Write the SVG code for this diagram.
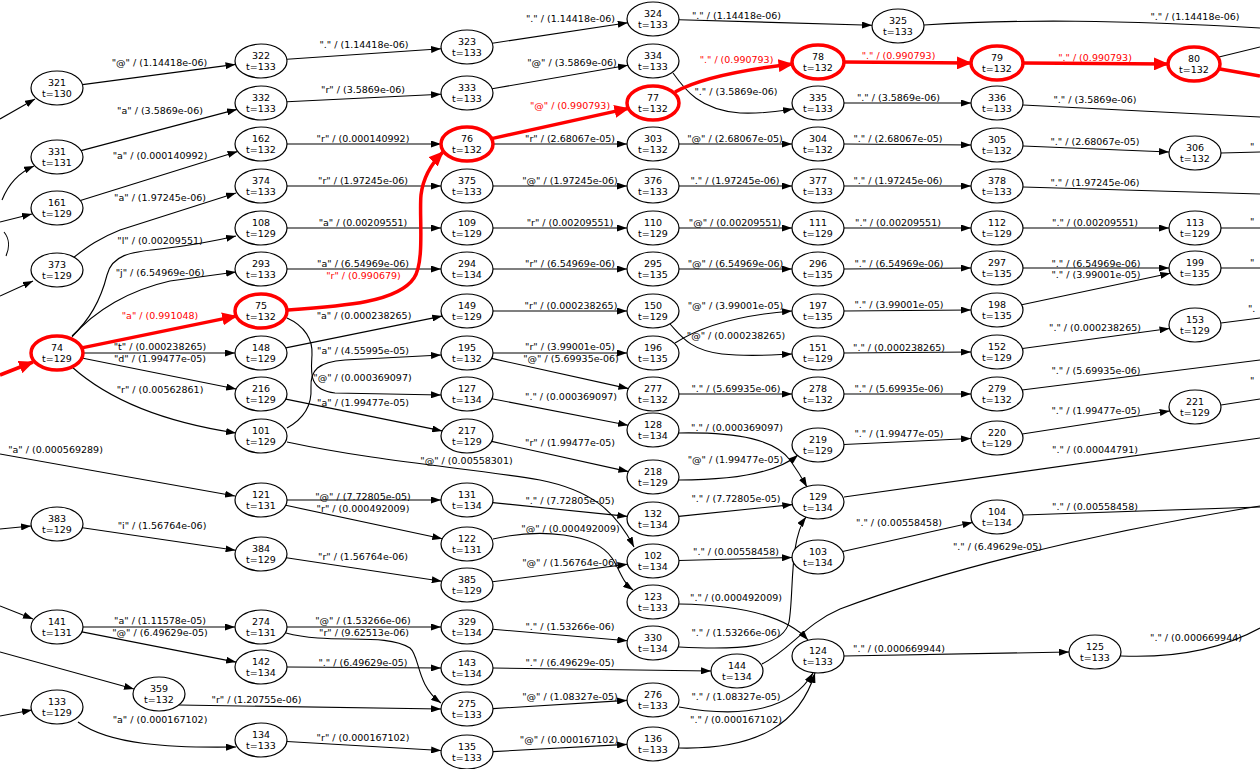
<svg xmlns="http://www.w3.org/2000/svg" width="1260" height="769" viewBox="0 0 1260 769">
<style>
  .e{fill:none;stroke:#000;stroke-width:1.1;marker-end:url(#ah)}
  .o{fill:none;stroke:#000;stroke-width:1.1}
  .r{fill:none;stroke:#f00;stroke-width:3.5;marker-end:url(#ahr)}
  .ro{fill:none;stroke:#f00;stroke-width:3.5}
  .lb{font-family:"DejaVu Sans","Liberation Sans",sans-serif;font-size:9.5px;text-anchor:middle;fill:#000}
  .lr{fill:#f00}
  .pl{font-family:"DejaVu Sans","Liberation Sans",sans-serif;font-size:9.5px;fill:#000}
  .node ellipse{fill:#fff;stroke:#000;stroke-width:1.2}
  .node.hot ellipse{stroke:#f00;stroke-width:3.5}
  .node text{font-family:"DejaVu Sans","Liberation Sans",sans-serif;font-size:9.5px;text-anchor:middle;fill:#000}
</style>
<defs>
  <marker id="ah" markerUnits="userSpaceOnUse" markerWidth="10" markerHeight="7" refX="10" refY="3.5" orient="auto">
    <path d="M0,0 L10,3.5 L0,7 Z" fill="#000"/>
  </marker>
  <marker id="ahr" markerUnits="userSpaceOnUse" markerWidth="15" markerHeight="13" refX="14" refY="6.5" orient="auto">
    <path d="M0,0 L15,6.5 L0,13 Z" fill="#f00"/>
  </marker>
</defs>
<rect width="1260" height="769" fill="#fff"/>

<g id="edges">
  <!-- entering from the left margin -->
  <path class="e" d="M0,119 L35,99"/>
  <path class="e" d="M2,200 C8,185 18,173 34,166"/>
  <path class="e" d="M0,222 L32,214"/>
  <path class="o" d="M4,232 C9,238 10,247 6,256"/>
  <path class="e" d="M0,296 L33,281"/>
  <path class="r" d="M0,375 L33,362"/>
  <path class="e" d="M0,454 L235,496"/>
  <path class="e" d="M0,529 L31,526"/>
  <path class="e" d="M0,606 L33,619"/>
  <path class="e" d="M0,652 L134,689"/>
  <path class="e" d="M0,716 L32,710"/>

  <!-- first column out -->
  <path class="e" d="M82.5,84.6 L235.5,64.4"/>
  <path class="e" d="M81.1,150.6 L236.9,109.4"/>
  <path class="e" d="M80.4,200.6 L237.6,151.4"/>
  <path class="e" d="M73,258 C88,246 100,238 120,230 L236,193"/>
  <path class="e" d="M72,336 C92,318 102,295 107,275 C112,255 130,252 160,249 C195,245 215,241 236,236"/>
  <path class="e" d="M72,337 C95,310 130,290 170,281 L236,272"/>
  <path class="r" d="M81.8,347.9 L236.2,316.1"/>
  <path class="e" d="M83,353 L235,353"/>
  <path class="e" d="M81.8,358 L236.2,389"/>
  <path class="e" d="M72,367 C100,392 150,420 236,433"/>
  <path class="e" d="M82.4,527.7 L235.6,550.3"/>
  <path class="e" d="M83,627 L235,627"/>
  <path class="e" d="M81.9,631.9 L236.1,662.1"/>
  <path class="e" d="M78,722 C110,745 170,748 236,747"/>
  <path class="e" d="M179,705 L441,709"/>

  <!-- second column out -->
  <path class="e" d="M286.9,59.2 L441.1,48.8"/>
  <path class="e" d="M287,101.7 L441,94.3"/>
  <path class="e" d="M287,144 L441,144"/>
  <path class="e" d="M287,186 L441,186"/>
  <path class="e" d="M287,228 L441,228"/>
  <path class="e" d="M287,269 L441,269"/>
  <path class="r" d="M288,310 C345,306 398,302 414,278 C425,262 419,215 421,195 C423,178 432,163 443,152"/>
  <path class="e" d="M285.8,347.9 L442.2,316.1"/>
  <path class="e" d="M287,318 C305,326 313,340 312,355 C311,372 308,390 335,393 L441,395"/>
  <path class="e" d="M287,428 C305,418 312,405 311,388 C310,370 318,362 345,360 L441,355"/>
  <path class="e" d="M285.8,399.1 L442.2,430.9"/>
  <path class="e" d="M287,442 C380,462 470,468 540,480 C590,490 615,510 634,547"/>
  <path class="e" d="M287,500 L441,500"/>
  <path class="e" d="M285.7,505.3 L442.3,538.7"/>
  <path class="e" d="M286.3,557.8 L441.7,581.2"/>
  <path class="e" d="M287,627 L441,627"/>
  <path class="e" d="M286,633 C330,645 385,632 410,648 C420,656 416,685 441,703"/>
  <path class="e" d="M287,667 L441,668"/>
  <path class="e" d="M286.9,741.5 L441.1,750.5"/>

  <!-- third column out -->
  <path class="e" d="M492.3,43.2 L627.7,22.8"/>
  <path class="e" d="M492.1,88.7 L627.9,65.3"/>
  <path class="r" d="M491.6,138.6 L628.4,108.4"/>
  <path class="e" d="M493,144 L627,144"/>
  <path class="e" d="M493,186 L627,186"/>
  <path class="e" d="M493,228 L627,228"/>
  <path class="e" d="M493,269 L627,269"/>
  <path class="e" d="M493,311 L627,311"/>
  <path class="e" d="M493,353 L627,353"/>
  <path class="e" d="M491.6,358.4 L628.4,388.6"/>
  <path class="e" d="M491.9,398.8 L628.1,425.2"/>
  <path class="e" d="M491.6,441.4 L628.4,471.6"/>
  <path class="e" d="M492.7,502.6 L627.3,516.4"/>
  <path class="e" d="M493,539 C540,528 595,533 612,558 C620,570 622,582 633,590"/>
  <path class="e" d="M492.5,581.7 L627.5,564.3"/>
  <path class="e" d="M492.7,629.2 L627.3,640.8"/>
  <path class="e" d="M493,668 L711,671"/>
  <path class="e" d="M493,708.6 L627,700.4"/>
  <path class="e" d="M493,751.6 L627,744.4"/>

  <!-- fourth column out -->
  <path class="e" d="M679,19.7 L872,25.3"/>
  <path class="e" d="M673,73 C685,90 700,110 740,113 C765,114 780,111 793,109"/>
  <path class="r" d="M675,92 C700,78 740,70 792.5,64"/>
  <path class="e" d="M679,144 L792,144"/>
  <path class="e" d="M679,186 L792,186"/>
  <path class="e" d="M679,228 L792,228"/>
  <path class="e" d="M679,269 L792,269"/>
  <path class="e" d="M675,343 C700,327 740,315 792,311"/>
  <path class="e" d="M670,324 C682,337 690,350 722,354 C750,357 770,355 792,354"/>
  <path class="e" d="M679,394 L792,394"/>
  <path class="e" d="M679,433 C740,432 775,440 790,460 C797,470 802,478 807,487"/>
  <path class="e" d="M679,480 C745,480 780,470 798,455"/>
  <path class="e" d="M678.7,516.4 L792.3,504.6"/>
  <path class="e" d="M679,560.5 L792,557.5"/>
  <path class="e" d="M679,604 C740,605 785,615 808,640"/>
  <path class="e" d="M679,647 C740,650 783,648 789,622 C794,595 789,540 806,517"/>
  <path class="o" d="M762,664 C790,650 805,624 840,609 C930,575 1080,535 1260,506"/>
  <path class="e" d="M679,707 C740,718 790,712 813,673"/>
  <path class="e" d="M679,748 C760,750 800,722 815,673"/>

  <!-- fifth column out -->
  <path class="r" d="M844,62 L971,63"/>
  <path class="e" d="M844,103 L971,103"/>
  <path class="e" d="M844,144 L971,145"/>
  <path class="e" d="M844,186 L971,186"/>
  <path class="e" d="M844,228 L971,228"/>
  <path class="e" d="M844,269 L971,268"/>
  <path class="e" d="M844,311 L971,310"/>
  <path class="e" d="M844,353 L971,352"/>
  <path class="e" d="M844,394 L971,394"/>
  <path class="e" d="M844,444.5 L971,438.5"/>
  <path class="o" d="M844,497 L1260,438"/>
  <path class="e" d="M842.6,551.5 L972.4,522.5"/>
  <path class="e" d="M844,656 L1069,652"/>

  <!-- sixth column out -->
  <path class="o" d="M924,25 C1020,19 1120,20 1260,28"/>
  <path class="r" d="M1023,63 L1168,64"/>
  <path class="o" d="M1023,105 L1260,117"/>
  <path class="e" d="M1023,146 L1169,152"/>
  <path class="o" d="M1023,187 L1260,194"/>
  <path class="e" d="M1023,228 L1169,228"/>
  <path class="e" d="M1023,268 L1169,268"/>
  <path class="e" d="M1021.75,304.75 L1170.25,273.25"/>
  <path class="e" d="M1022.5,348.5 L1169.5,328.5"/>
  <path class="o" d="M1022,390 L1260,360"/>
  <path class="e" d="M1022.3,434 L1169.7,411"/>
  <path class="o" d="M1023,515 L1260,507"/>
  <path class="o" d="M1121,656 C1170,658 1220,650 1260,628"/>

  <!-- leaving at the right margin -->
  <path class="o" d="M1219,57 L1260,47"/>
  <path class="ro" d="M1220,69 L1260,76"/>
  <path class="o" d="M1221,153 L1260,152"/>
  <path class="o" d="M1221,228 L1260,228"/>
  <path class="o" d="M1221,268 L1260,268"/>
  <path class="o" d="M1221,323 L1260,318"/>
  <path class="o" d="M1221,405 L1260,399"/>

  <!-- edge labels -->
  <g class="lb">
    <text x="159.5" y="66">"@" / (1.14418e-06)</text>
    <text x="160" y="114">"a" / (3.5869e-06)</text>
    <text x="160" y="158.5">"a" / (0.000140992)</text>
    <text x="160" y="201">"a" / (1.97245e-06)</text>
    <text x="160" y="244">"l" / (0.00209551)</text>
    <text x="160" y="275.5">"j" / (6.54969e-06)</text>
    <text class="lr" x="160" y="319">"a" / (0.991048)</text>
    <text x="160" y="350">"t" / (0.000238265)</text>
    <text x="160" y="362">"d" / (1.99477e-05)</text>
    <text x="160" y="393">"r" / (0.00562861)</text>
    <text x="55.5" y="453">"a" / (0.000569289)</text>
    <text x="162" y="529">"i" / (1.56764e-06)</text>
    <text x="160" y="623.5">"a" / (1.11578e-05)</text>
    <text x="160" y="636">"@" / (6.49629e-05)</text>
    <text x="160" y="723">"a" / (0.000167102)</text>
    <text x="256.5" y="703">"r" / (1.20755e-06)</text>

    <text x="364" y="48">"." / (1.14418e-06)</text>
    <text x="363" y="93">"r" / (3.5869e-06)</text>
    <text x="363" y="142">"r" / (0.000140992)</text>
    <text x="363" y="184">"r" / (1.97245e-06)</text>
    <text x="363" y="225.5">"a" / (0.00209551)</text>
    <text x="363" y="267">"a" / (6.54969e-06)</text>
    <text class="lr" x="363.5" y="279">"r" / (0.990679)</text>
    <text x="364" y="319">"a" / (0.000238265)</text>
    <text x="363" y="354">"a" / (4.55995e-05)</text>
    <text x="362.5" y="380.5">"@" / (0.000369097)</text>
    <text x="363" y="405.5">"a" / (1.99477e-05)</text>
    <text x="466.5" y="464">"@" / (0.00558301)</text>
    <text x="363" y="500">"@" / (7.72805e-05)</text>
    <text x="363" y="512">"r" / (0.000492009)</text>
    <text x="363" y="559.5">"r" / (1.56764e-06)</text>
    <text x="363" y="623.5">"@" / (1.53266e-06)</text>
    <text x="364" y="636">"r" / (9.62513e-06)</text>
    <text x="363" y="665.5">"." / (6.49629e-05)</text>
    <text x="363" y="740.5">"r" / (0.000167102)</text>

    <text x="570.5" y="22">"." / (1.14418e-06)</text>
    <text x="572" y="65.5">"@" / (3.5869e-06)</text>
    <text class="lr" x="570" y="109">"@" / (0.990793)</text>
    <text x="570" y="142">"r" / (2.68067e-05)</text>
    <text x="570" y="184">"@" / (1.97245e-06)</text>
    <text x="570" y="225.5">"r" / (0.00209551)</text>
    <text x="570" y="267">"r" / (6.54969e-06)</text>
    <text x="571" y="308.5">"r" / (0.000238265)</text>
    <text x="570" y="350">"r" / (3.99001e-05)</text>
    <text x="571" y="362">"@" / (5.69935e-06)</text>
    <text x="571" y="400">"." / (0.000369097)</text>
    <text x="570" y="445.5">"r" / (1.99477e-05)</text>
    <text x="570" y="504">"." / (7.72805e-05)</text>
    <text x="570.5" y="531.5">"@" / (0.000492009)</text>
    <text x="570" y="565.5">"@" / (1.56764e-06)</text>
    <text x="570" y="629.5">"." / (1.53266e-06)</text>
    <text x="570" y="666">"." / (6.49629e-05)</text>
    <text x="570" y="699.5">"@" / (1.08327e-05)</text>
    <text x="569" y="743">"@" / (0.000167102)</text>

    <text x="736.5" y="19">"." / (1.14418e-06)</text>
    <text class="lr" x="736.5" y="62.5">"." / (0.990793)</text>
    <text x="736" y="94.5">"." / (3.5869e-06)</text>
    <text x="735" y="142">"@" / (2.68067e-05)</text>
    <text x="735" y="184">"." / (1.97245e-06)</text>
    <text x="735" y="225.5">"@" / (0.00209551)</text>
    <text x="735.5" y="267">"@" / (6.54969e-06)</text>
    <text x="735.5" y="309">"@" / (3.99001e-05)</text>
    <text x="736" y="339">"@" / (0.000238265)</text>
    <text x="736" y="391.5">"." / (5.69935e-06)</text>
    <text x="737" y="431">"." / (0.000369097)</text>
    <text x="735.5" y="463">"@" / (1.99477e-05)</text>
    <text x="736" y="502">"." / (7.72805e-05)</text>
    <text x="736" y="554.5">"." / (0.00558458)</text>
    <text x="736" y="600.5">"." / (0.000492009)</text>
    <text x="736" y="635.5">"." / (1.53266e-06)</text>
    <text x="736" y="699.5">"." / (1.08327e-05)</text>
    <text x="736" y="722.5">"." / (0.000167102)</text>

    <text class="lr" x="898.5" y="59">"." / (0.990793)</text>
    <text x="898.5" y="101">"." / (3.5869e-06)</text>
    <text x="898" y="142">"." / (2.68067e-05)</text>
    <text x="898" y="184">"." / (1.97245e-06)</text>
    <text x="898" y="225.5">"." / (0.00209551)</text>
    <text x="899" y="267">"." / (6.54969e-06)</text>
    <text x="899" y="308">"." / (3.99001e-05)</text>
    <text x="899" y="350.5">"." / (0.000238265)</text>
    <text x="899" y="392">"." / (5.69935e-06)</text>
    <text x="899" y="437">"." / (1.99477e-05)</text>
    <text x="899" y="526">"." / (0.00558458)</text>
    <text x="899" y="651.5">"." / (0.000669944)</text>

    <text x="1195" y="20">"." / (1.14418e-06)</text>
    <text class="lr" x="1095" y="60.5">"." / (0.990793)</text>
    <text x="1095" y="103">"." / (3.5869e-06)</text>
    <text x="1095" y="144.5">"." / (2.68067e-05)</text>
    <text x="1095" y="185.5">"." / (1.97245e-06)</text>
    <text x="1095" y="225.5">"." / (0.00209551)</text>
    <text x="1096" y="267">"." / (6.54969e-06)</text>
    <text x="1096" y="278">"." / (3.99001e-05)</text>
    <text x="1095" y="331">"." / (0.000238265)</text>
    <text x="1096" y="373.5">"." / (5.69935e-06)</text>
    <text x="1096" y="414">"." / (1.99477e-05)</text>
    <text x="1095" y="453">"." / (0.00044791)</text>
    <text x="1095" y="509.5">"." / (0.00558458)</text>
    <text x="997.5" y="549.5">"." / (6.49629e-05)</text>
    <text x="1196" y="640.5">"." / (0.000669944)</text>
  </g>
  <g class="pl">
    <text x="1250" y="150">"</text>
    <text x="1250" y="225">"</text>
    <text x="1250" y="266">"</text>
    <text x="1248" y="312">".</text>
    <text x="1250" y="384">"</text>
  </g>
</g>

<!-- nodes -->
<g id="n321" class="node"><ellipse cx="57" cy="88" rx="26" ry="17"/><text x="57" y="86">321</text><text x="57" y="96.5">t=130</text></g>
<g id="n331" class="node"><ellipse cx="57" cy="157" rx="26" ry="17"/><text x="57" y="155">331</text><text x="57" y="165.5">t=131</text></g>
<g id="n161" class="node"><ellipse cx="57" cy="208" rx="26" ry="17"/><text x="57" y="206">161</text><text x="57" y="216.5">t=129</text></g>
<g id="n373" class="node"><ellipse cx="57" cy="270" rx="26" ry="17"/><text x="57" y="268">373</text><text x="57" y="278.5">t=129</text></g>
<g id="n74" class="node hot"><ellipse cx="57" cy="353" rx="26" ry="17"/><text x="57" y="351">74</text><text x="57" y="361.5">t=129</text></g>
<g id="n383" class="node"><ellipse cx="57" cy="524" rx="26" ry="17"/><text x="57" y="522">383</text><text x="57" y="532.5">t=129</text></g>
<g id="n141" class="node"><ellipse cx="57" cy="627" rx="26" ry="17"/><text x="57" y="625">141</text><text x="57" y="635.5">t=131</text></g>
<g id="n133" class="node"><ellipse cx="57" cy="707" rx="26" ry="17"/><text x="57" y="705">133</text><text x="57" y="715.5">t=129</text></g>
<g id="n359" class="node"><ellipse cx="159" cy="694" rx="26" ry="17"/><text x="159" y="692">359</text><text x="159" y="702.5">t=132</text></g>

<g id="n322" class="node"><ellipse cx="261" cy="61" rx="26" ry="17"/><text x="261" y="59">322</text><text x="261" y="69.5">t=133</text></g>
<g id="n332" class="node"><ellipse cx="261" cy="103" rx="26" ry="17"/><text x="261" y="101">332</text><text x="261" y="111.5">t=133</text></g>
<g id="n162" class="node"><ellipse cx="261" cy="144" rx="26" ry="17"/><text x="261" y="142">162</text><text x="261" y="152.5">t=132</text></g>
<g id="n374" class="node"><ellipse cx="261" cy="186" rx="26" ry="17"/><text x="261" y="184">374</text><text x="261" y="194.5">t=133</text></g>
<g id="n108" class="node"><ellipse cx="261" cy="228" rx="26" ry="17"/><text x="261" y="226">108</text><text x="261" y="236.5">t=129</text></g>
<g id="n293" class="node"><ellipse cx="261" cy="269" rx="26" ry="17"/><text x="261" y="267">293</text><text x="261" y="277.5">t=133</text></g>
<g id="n75" class="node hot"><ellipse cx="261" cy="311" rx="26" ry="17"/><text x="261" y="309">75</text><text x="261" y="319.5">t=132</text></g>
<g id="n148" class="node"><ellipse cx="261" cy="353" rx="26" ry="17"/><text x="261" y="351">148</text><text x="261" y="361.5">t=129</text></g>
<g id="n216" class="node"><ellipse cx="261" cy="394" rx="26" ry="17"/><text x="261" y="392">216</text><text x="261" y="402.5">t=129</text></g>
<g id="n101" class="node"><ellipse cx="261" cy="436" rx="26" ry="17"/><text x="261" y="434">101</text><text x="261" y="444.5">t=129</text></g>
<g id="n121" class="node"><ellipse cx="261" cy="500" rx="26" ry="17"/><text x="261" y="498">121</text><text x="261" y="508.5">t=131</text></g>
<g id="n384" class="node"><ellipse cx="261" cy="554" rx="26" ry="17"/><text x="261" y="552">384</text><text x="261" y="562.5">t=129</text></g>
<g id="n274" class="node"><ellipse cx="261" cy="627" rx="26" ry="17"/><text x="261" y="625">274</text><text x="261" y="635.5">t=131</text></g>
<g id="n142" class="node"><ellipse cx="261" cy="667" rx="26" ry="17"/><text x="261" y="665">142</text><text x="261" y="675.5">t=134</text></g>
<g id="n134" class="node"><ellipse cx="261" cy="740" rx="26" ry="17"/><text x="261" y="738">134</text><text x="261" y="748.5">t=133</text></g>

<g id="n323" class="node"><ellipse cx="467" cy="47" rx="26" ry="17"/><text x="467" y="45">323</text><text x="467" y="55.5">t=133</text></g>
<g id="n333" class="node"><ellipse cx="467" cy="93" rx="26" ry="17"/><text x="467" y="91">333</text><text x="467" y="101.5">t=133</text></g>
<g id="n76" class="node hot"><ellipse cx="467" cy="144" rx="26" ry="17"/><text x="467" y="142">76</text><text x="467" y="152.5">t=132</text></g>
<g id="n375" class="node"><ellipse cx="467" cy="186" rx="26" ry="17"/><text x="467" y="184">375</text><text x="467" y="194.5">t=133</text></g>
<g id="n109" class="node"><ellipse cx="467" cy="228" rx="26" ry="17"/><text x="467" y="226">109</text><text x="467" y="236.5">t=129</text></g>
<g id="n294" class="node"><ellipse cx="467" cy="269" rx="26" ry="17"/><text x="467" y="267">294</text><text x="467" y="277.5">t=134</text></g>
<g id="n149" class="node"><ellipse cx="467" cy="311" rx="26" ry="17"/><text x="467" y="309">149</text><text x="467" y="319.5">t=129</text></g>
<g id="n195" class="node"><ellipse cx="467" cy="353" rx="26" ry="17"/><text x="467" y="351">195</text><text x="467" y="361.5">t=132</text></g>
<g id="n127" class="node"><ellipse cx="467" cy="394" rx="26" ry="17"/><text x="467" y="392">127</text><text x="467" y="402.5">t=134</text></g>
<g id="n217" class="node"><ellipse cx="467" cy="436" rx="26" ry="17"/><text x="467" y="434">217</text><text x="467" y="444.5">t=129</text></g>
<g id="n131" class="node"><ellipse cx="467" cy="500" rx="26" ry="17"/><text x="467" y="498">131</text><text x="467" y="508.5">t=134</text></g>
<g id="n122" class="node"><ellipse cx="467" cy="544" rx="26" ry="17"/><text x="467" y="542">122</text><text x="467" y="552.5">t=131</text></g>
<g id="n385" class="node"><ellipse cx="467" cy="585" rx="26" ry="17"/><text x="467" y="583">385</text><text x="467" y="593.5">t=129</text></g>
<g id="n329" class="node"><ellipse cx="467" cy="627" rx="26" ry="17"/><text x="467" y="625">329</text><text x="467" y="635.5">t=134</text></g>
<g id="n143" class="node"><ellipse cx="467" cy="668" rx="26" ry="17"/><text x="467" y="666">143</text><text x="467" y="676.5">t=134</text></g>
<g id="n275" class="node"><ellipse cx="467" cy="709" rx="26" ry="17"/><text x="467" y="707">275</text><text x="467" y="717.5">t=133</text></g>
<g id="n135" class="node"><ellipse cx="467" cy="752" rx="26" ry="17"/><text x="467" y="750">135</text><text x="467" y="760.5">t=133</text></g>

<g id="n324" class="node"><ellipse cx="653" cy="19" rx="26" ry="17"/><text x="653" y="17">324</text><text x="653" y="27.5">t=133</text></g>
<g id="n334" class="node"><ellipse cx="653" cy="61" rx="26" ry="17"/><text x="653" y="59">334</text><text x="653" y="69.5">t=133</text></g>
<g id="n77" class="node hot"><ellipse cx="653" cy="103" rx="26" ry="17"/><text x="653" y="101">77</text><text x="653" y="111.5">t=132</text></g>
<g id="n303" class="node"><ellipse cx="653" cy="144" rx="26" ry="17"/><text x="653" y="142">303</text><text x="653" y="152.5">t=132</text></g>
<g id="n376" class="node"><ellipse cx="653" cy="186" rx="26" ry="17"/><text x="653" y="184">376</text><text x="653" y="194.5">t=133</text></g>
<g id="n110" class="node"><ellipse cx="653" cy="228" rx="26" ry="17"/><text x="653" y="226">110</text><text x="653" y="236.5">t=129</text></g>
<g id="n295" class="node"><ellipse cx="653" cy="269" rx="26" ry="17"/><text x="653" y="267">295</text><text x="653" y="277.5">t=135</text></g>
<g id="n150" class="node"><ellipse cx="653" cy="311" rx="26" ry="17"/><text x="653" y="309">150</text><text x="653" y="319.5">t=129</text></g>
<g id="n196" class="node"><ellipse cx="653" cy="353" rx="26" ry="17"/><text x="653" y="351">196</text><text x="653" y="361.5">t=135</text></g>
<g id="n277" class="node"><ellipse cx="653" cy="394" rx="26" ry="17"/><text x="653" y="392">277</text><text x="653" y="402.5">t=132</text></g>
<g id="n128" class="node"><ellipse cx="653" cy="430" rx="26" ry="17"/><text x="653" y="428">128</text><text x="653" y="438.5">t=134</text></g>
<g id="n218" class="node"><ellipse cx="653" cy="477" rx="26" ry="17"/><text x="653" y="475">218</text><text x="653" y="485.5">t=129</text></g>
<g id="n132" class="node"><ellipse cx="653" cy="519" rx="26" ry="17"/><text x="653" y="517">132</text><text x="653" y="527.5">t=134</text></g>
<g id="n102" class="node"><ellipse cx="653" cy="561" rx="26" ry="17"/><text x="653" y="559">102</text><text x="653" y="569.5">t=134</text></g>
<g id="n123" class="node"><ellipse cx="653" cy="602" rx="26" ry="17"/><text x="653" y="600">123</text><text x="653" y="610.5">t=133</text></g>
<g id="n330" class="node"><ellipse cx="653" cy="643" rx="26" ry="17"/><text x="653" y="641">330</text><text x="653" y="651.5">t=134</text></g>
<g id="n276" class="node"><ellipse cx="653" cy="700" rx="26" ry="17"/><text x="653" y="698">276</text><text x="653" y="708.5">t=133</text></g>
<g id="n136" class="node"><ellipse cx="653" cy="744" rx="26" ry="17"/><text x="653" y="742">136</text><text x="653" y="752.5">t=133</text></g>
<g id="n144" class="node"><ellipse cx="737" cy="671" rx="26" ry="17"/><text x="737" y="669">144</text><text x="737" y="679.5">t=134</text></g>

<g id="n78" class="node hot"><ellipse cx="818" cy="62" rx="26" ry="17"/><text x="818" y="60">78</text><text x="818" y="70.5">t=132</text></g>
<g id="n335" class="node"><ellipse cx="818" cy="103" rx="26" ry="17"/><text x="818" y="101">335</text><text x="818" y="111.5">t=133</text></g>
<g id="n304" class="node"><ellipse cx="818" cy="144" rx="26" ry="17"/><text x="818" y="142">304</text><text x="818" y="152.5">t=132</text></g>
<g id="n377" class="node"><ellipse cx="818" cy="186" rx="26" ry="17"/><text x="818" y="184">377</text><text x="818" y="194.5">t=133</text></g>
<g id="n111" class="node"><ellipse cx="818" cy="228" rx="26" ry="17"/><text x="818" y="226">111</text><text x="818" y="236.5">t=129</text></g>
<g id="n296" class="node"><ellipse cx="818" cy="269" rx="26" ry="17"/><text x="818" y="267">296</text><text x="818" y="277.5">t=135</text></g>
<g id="n197" class="node"><ellipse cx="818" cy="311" rx="26" ry="17"/><text x="818" y="309">197</text><text x="818" y="319.5">t=135</text></g>
<g id="n151" class="node"><ellipse cx="818" cy="353" rx="26" ry="17"/><text x="818" y="351">151</text><text x="818" y="361.5">t=129</text></g>
<g id="n278" class="node"><ellipse cx="818" cy="394" rx="26" ry="17"/><text x="818" y="392">278</text><text x="818" y="402.5">t=132</text></g>
<g id="n219" class="node"><ellipse cx="818" cy="445" rx="26" ry="17"/><text x="818" y="443">219</text><text x="818" y="453.5">t=129</text></g>
<g id="n129" class="node"><ellipse cx="818" cy="502" rx="26" ry="17"/><text x="818" y="500">129</text><text x="818" y="510.5">t=134</text></g>
<g id="n103" class="node"><ellipse cx="818" cy="557" rx="26" ry="17"/><text x="818" y="555">103</text><text x="818" y="565.5">t=134</text></g>
<g id="n124" class="node"><ellipse cx="818" cy="656" rx="26" ry="17"/><text x="818" y="654">124</text><text x="818" y="664.5">t=133</text></g>

<g id="n325" class="node"><ellipse cx="898" cy="26" rx="26" ry="17"/><text x="898" y="24">325</text><text x="898" y="34.5">t=133</text></g>
<g id="n79" class="node hot"><ellipse cx="997" cy="63" rx="26" ry="17"/><text x="997" y="61">79</text><text x="997" y="71.5">t=132</text></g>
<g id="n336" class="node"><ellipse cx="997" cy="103" rx="26" ry="17"/><text x="997" y="101">336</text><text x="997" y="111.5">t=133</text></g>
<g id="n305" class="node"><ellipse cx="997" cy="145" rx="26" ry="17"/><text x="997" y="143">305</text><text x="997" y="153.5">t=132</text></g>
<g id="n378" class="node"><ellipse cx="997" cy="186" rx="26" ry="17"/><text x="997" y="184">378</text><text x="997" y="194.5">t=133</text></g>
<g id="n112" class="node"><ellipse cx="997" cy="228" rx="26" ry="17"/><text x="997" y="226">112</text><text x="997" y="236.5">t=129</text></g>
<g id="n297" class="node"><ellipse cx="997" cy="268" rx="26" ry="17"/><text x="997" y="266">297</text><text x="997" y="276.5">t=135</text></g>
<g id="n198" class="node"><ellipse cx="997" cy="310" rx="26" ry="17"/><text x="997" y="308">198</text><text x="997" y="318.5">t=135</text></g>
<g id="n152" class="node"><ellipse cx="997" cy="352" rx="26" ry="17"/><text x="997" y="350">152</text><text x="997" y="360.5">t=129</text></g>
<g id="n279" class="node"><ellipse cx="997" cy="394" rx="26" ry="17"/><text x="997" y="392">279</text><text x="997" y="402.5">t=132</text></g>
<g id="n220" class="node"><ellipse cx="997" cy="438" rx="26" ry="17"/><text x="997" y="436">220</text><text x="997" y="446.5">t=129</text></g>
<g id="n104" class="node"><ellipse cx="997" cy="517" rx="26" ry="17"/><text x="997" y="515">104</text><text x="997" y="525.5">t=134</text></g>
<g id="n125" class="node"><ellipse cx="1095" cy="652" rx="26" ry="17"/><text x="1095" y="650">125</text><text x="1095" y="660.5">t=133</text></g>

<g id="n80" class="node hot"><ellipse cx="1194" cy="64" rx="26" ry="17"/><text x="1194" y="62">80</text><text x="1194" y="72.5">t=132</text></g>
<g id="n306" class="node"><ellipse cx="1195" cy="153" rx="26" ry="17"/><text x="1195" y="151">306</text><text x="1195" y="161.5">t=132</text></g>
<g id="n113" class="node"><ellipse cx="1195" cy="228" rx="26" ry="17"/><text x="1195" y="226">113</text><text x="1195" y="236.5">t=129</text></g>
<g id="n199" class="node"><ellipse cx="1195" cy="268" rx="26" ry="17"/><text x="1195" y="266">199</text><text x="1195" y="276.5">t=135</text></g>
<g id="n153" class="node"><ellipse cx="1195" cy="325" rx="26" ry="17"/><text x="1195" y="323">153</text><text x="1195" y="333.5">t=129</text></g>
<g id="n221" class="node"><ellipse cx="1195" cy="407" rx="26" ry="17"/><text x="1195" y="405">221</text><text x="1195" y="415.5">t=129</text></g>
</svg>
